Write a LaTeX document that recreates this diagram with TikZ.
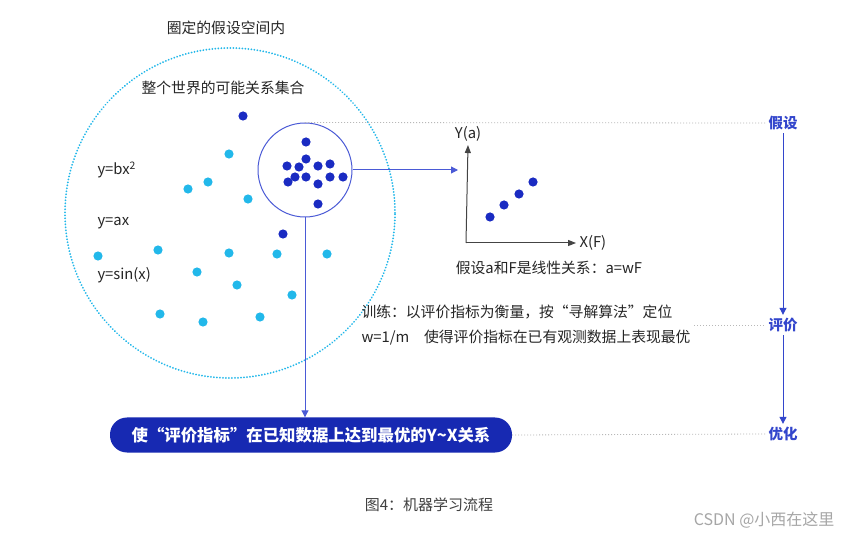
\documentclass[tikz,border=0pt]{standalone}
\usepackage{fontspec}
\setmainfont{Noto Sans CJK SC}
\usepackage{xcolor}
\usetikzlibrary{arrows.meta,positioning}
\definecolor{deepblue}{HTML}{1A2BC2}
\definecolor{skyblue}{HTML}{22B8EA}
\definecolor{ringblue}{HTML}{4A5AD6}
\definecolor{tagblue}{HTML}{3346CC}
\definecolor{pillblue}{HTML}{1729B2}
\definecolor{txt}{HTML}{262626}
\definecolor{axisgray}{HTML}{444444}
\begin{document}
\begin{tikzpicture}[x=1pt,y=-1pt,
  txtnode/.style={text=txt,font=\fontsize{14.8}{17}\selectfont},
  tag/.style={text=tagblue,font=\bfseries\fontsize{14.5}{17}\selectfont,inner sep=3},
  guide/.style={draw=black!28,dash pattern=on 1pt off 2pt,line width=0.8},
  flow/.style={draw=tagblue,line width=1,-{Triangle[length=7pt,width=7pt]}},
  axis/.style={draw=axisgray,line width=1,-{Triangle[length=8pt,width=6pt]}}]
\useasboundingbox[fill=white](0,0)rectangle(852,537);
\node[txtnode](space)at(226,28){圈定的假设空间内};
\node[circle,minimum size=330,inner sep=0,draw=skyblue,line width=2,line cap=round,
  dash pattern=on 0.01pt off 3pt](world)at(230,213){};
\node[txtnode](worldlab)at(223,88){整个世界的可能关系集合};
\node[txtnode,anchor=west](quad)at(94,170){y=bx\textsuperscript{2}};
\node[txtnode,anchor=west](lin)at(94,223){y=ax};
\node[txtnode,anchor=west](sine)at(94,275){y=sin(x)};
\node[circle,minimum size=94,inner sep=0,draw=ringblue,line width=1](sel)at(305,170){};
\foreach \x/\y in {306/142,306/159,287/166,299/167,318/166,330/164,295/177,288/182,
  306/177,318/184,330/177,343/177,318/204,243/116,283/234}
  \fill[deepblue](\x,\y)circle(4.6);
\foreach \x/\y in {229/154,208/182,188/189,248/199,98/256,158/250,229/253,277/254,
  327/254,197/272,237/285,292/295,160/314,203/322,260/317}
  \fill[skyblue](\x,\y)circle(4.6);
% right side
\node[tag](jiashe)at(783,123){假设};
\node[tag](pingjia)at(783,325){评价};
\node[tag](youhua)at(783,434){优化};
\draw[flow](jiashe)--(pingjia);
\draw[flow](pingjia)--(youhua);
% fitted plot
\coordinate(o)at(466,243);
\coordinate(fit)at(458,170);
\node[txtnode](ylab)at(468,134){Y(a)};
\node[txtnode,anchor=west](xlab)at(576,243){X(F)};
\draw[axis](o)--(ylab.south);
\draw[axis](o)--(xlab.west);
\foreach \x/\y in {490/217,504/205,519/194,533/182}
  \fill[deepblue](\x,\y)circle(4.6);
\node[txtnode](law)at(549,268){假设a和F是线性关系：a=wF};
\draw[line width=1,draw=ringblue,-{Triangle[length=7pt,width=7pt]}](sel.east)--(fit);
\draw[guide](sel.north)--(jiashe.west);
% training
\node[txtnode,align=left,anchor=west,font=\fontsize{14.8}{25}\selectfont](train)at(358,325)
  {训练：以评价指标为衡量，按“寻解算法”定位\\w=1/m\quad 使得评价指标在已有观测数据上表现最优};
\draw[guide](train.east)--(pingjia.west);
% result
\node[rounded corners=17,fill=pillblue,text=white,minimum width=402,minimum height=35,
  font=\bfseries\fontsize{16.4}{18}\selectfont](goal)at(311,435)
  {使“评价指标”在已知数据上达到最优的Y\textasciitilde X关系};
\draw[line width=1,draw=ringblue,-{Triangle[length=7pt,width=7pt]}](sel.south)--(sel.south|-goal.north);
\draw[guide](goal.east)--(youhua.west);
\node[text=black!75,font=\fontsize{15}{17}\selectfont](cap)at(429,505){图4：机器学习流程};
\node[text=black!35,anchor=east,font=\fontsize{16}{18}\selectfont](mark)at(838,520){CSDN @小西在这里};
\end{tikzpicture}
\end{document}
